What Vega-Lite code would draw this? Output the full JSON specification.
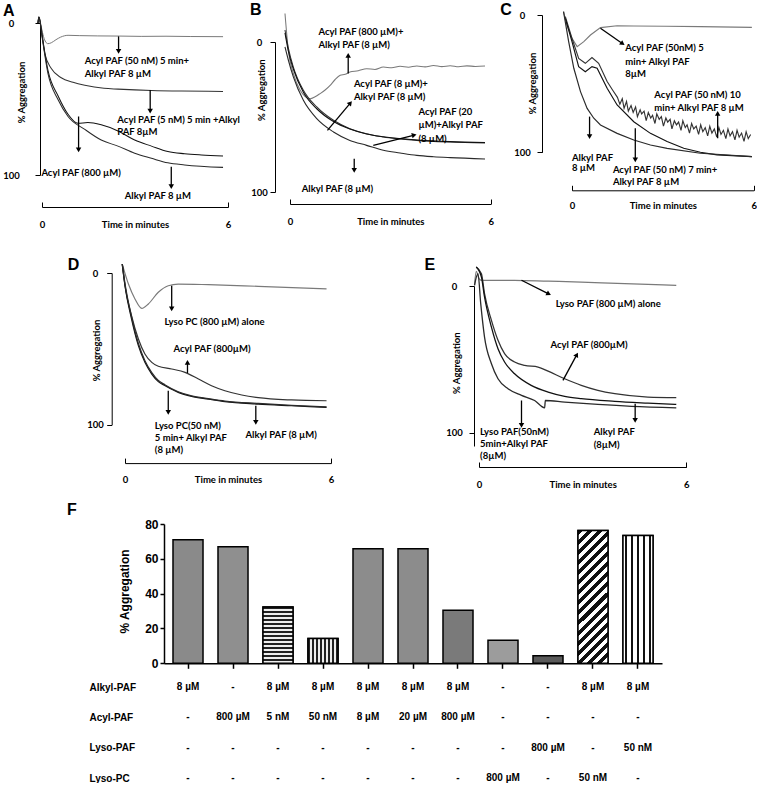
{
"$schema": "https://vega.github.io/schema/vega-lite/v6.json",
"background": "white",
"padding": {"left": 2, "top": 0, "right": 0, "bottom": 0},
"config": {
  "view": {"stroke": null},
  "axis": {"grid": false, "domainColor": "#000", "tickColor": "#000", "labelColor": "#000", "titleColor": "#000", "labelFont": "Liberation Sans Narrow, Lato, sans-serif", "titleFont": "Liberation Sans Narrow, Lato, sans-serif", "labelFontWeight": "bold", "titleFontWeight": "bold", "labelFontSize": 9.5, "titleFontSize": 9.5, "domainWidth": 1, "tickWidth": 1},
  "text": {"font": "Liberation Sans Narrow, Lato, sans-serif", "fontWeight": "bold", "fontSize": 9.5, "color": "#000"},
  "line": {"interpolate": "monotone"}
},
"datasets": {
  "curA": [
    {"s":"a1","t":-0.13,"v":0},{"s":"a1","t":-0.1,"v":-4},{"s":"a1","t":-0.02,"v":3},{"s":"a1","t":0.05,"v":9},{"s":"a1","t":0.12,"v":12.5},{"s":"a1","t":0.19,"v":13.6},{"s":"a1","t":0.3,"v":13},{"s":"a1","t":0.45,"v":11},{"s":"a1","t":0.6,"v":9.3},{"s":"a1","t":0.84,"v":8.1},{"s":"a1","t":1.2,"v":8.3},{"s":"a1","t":1.8,"v":8.5},{"s":"a1","t":2.5,"v":8.6},{"s":"a1","t":3.2,"v":8.8},{"s":"a1","t":4,"v":8.7},{"s":"a1","t":4.8,"v":8.9},{"s":"a1","t":5.84,"v":9},
    {"s":"a2","t":-0.13,"v":0},{"s":"a2","t":-0.1,"v":-4},{"s":"a2","t":-0.02,"v":4},{"s":"a2","t":0.09,"v":20},{"s":"a2","t":0.3,"v":30},{"s":"a2","t":0.62,"v":36},{"s":"a2","t":1.0,"v":39},{"s":"a2","t":1.38,"v":41},{"s":"a2","t":2.0,"v":43},{"s":"a2","t":2.45,"v":43.5},{"s":"a2","t":3.0,"v":44},{"s":"a2","t":3.53,"v":44.4},{"s":"a2","t":4.5,"v":44.8},{"s":"a2","t":5.84,"v":45},
    {"s":"a3","t":-0.13,"v":0},{"s":"a3","t":-0.1,"v":-4},{"s":"a3","t":0.0,"v":8},{"s":"a3","t":0.19,"v":31},{"s":"a3","t":0.52,"v":48},{"s":"a3","t":0.84,"v":60},{"s":"a3","t":1.16,"v":66},{"s":"a3","t":1.48,"v":65.5},{"s":"a3","t":1.91,"v":67},{"s":"a3","t":2.45,"v":71},{"s":"a3","t":2.99,"v":77},{"s":"a3","t":3.53,"v":81},{"s":"a3","t":4.06,"v":84.6},{"s":"a3","t":4.6,"v":86},{"s":"a3","t":5.14,"v":86.8},{"s":"a3","t":5.84,"v":87.5},
    {"s":"a4","t":-0.13,"v":0},{"s":"a4","t":-0.1,"v":-4},{"s":"a4","t":0.0,"v":9},{"s":"a4","t":0.19,"v":33},{"s":"a4","t":0.52,"v":50.5},{"s":"a4","t":0.84,"v":61.5},{"s":"a4","t":1.38,"v":70},{"s":"a4","t":1.91,"v":77},{"s":"a4","t":2.45,"v":81},{"s":"a4","t":2.99,"v":85.7},{"s":"a4","t":3.53,"v":89},{"s":"a4","t":4.06,"v":92},{"s":"a4","t":4.6,"v":93.4},{"s":"a4","t":5.84,"v":95}
  ],
  "curB": [
    {"s":"b1","t":-0.15,"v":-19},{"s":"b1","t":-0.05,"v":5.6},{"s":"b1","t":0.1,"v":21},{"s":"b1","t":0.3,"v":32},{"s":"b1","t":0.6,"v":37.8},{"s":"b1","t":0.75,"v":36.5},{"s":"b1","t":0.9,"v":34.4},{"s":"b1","t":1.05,"v":32},{"s":"b1","t":1.2,"v":28.9},{"s":"b1","t":1.35,"v":25},{"s":"b1","t":1.5,"v":22.2},{"s":"b1","t":1.65,"v":21.5},{"s":"b1","t":1.79,"v":20},{"s":"b1","t":2.04,"v":19.2},{"s":"b1","t":2.29,"v":17.8},{"s":"b1","t":2.54,"v":18.3},{"s":"b1","t":2.79,"v":16.7},{"s":"b1","t":3.04,"v":17.2},{"s":"b1","t":3.29,"v":16.2},{"s":"b1","t":3.54,"v":16.8},{"s":"b1","t":3.79,"v":16},{"s":"b1","t":4.04,"v":16.6},{"s":"b1","t":4.29,"v":15.7},{"s":"b1","t":4.54,"v":16.4},{"s":"b1","t":4.79,"v":15.8},{"s":"b1","t":5.04,"v":16.5},{"s":"b1","t":5.29,"v":15.9},{"s":"b1","t":5.54,"v":16.3},{"s":"b1","t":5.83,"v":16},
    {"s":"b2","t":-0.15,"v":-8},{"s":"b2","t":-0.05,"v":4},{"s":"b2","t":0.1,"v":16.7},{"s":"b2","t":0.4,"v":32.2},{"s":"b2","t":0.8,"v":43.3},{"s":"b2","t":1.3,"v":52.2},{"s":"b2","t":1.79,"v":57.8},{"s":"b2","t":2.29,"v":61.1},{"s":"b2","t":2.79,"v":63.3},{"s":"b2","t":3.29,"v":64.6},{"s":"b2","t":3.79,"v":65.6},{"s":"b2","t":4.79,"v":66.7},{"s":"b2","t":5.83,"v":67.3},
    {"s":"b3","t":-0.15,"v":-6},{"s":"b3","t":-0.05,"v":6},{"s":"b3","t":0.1,"v":18},{"s":"b3","t":0.4,"v":33.5},{"s":"b3","t":0.8,"v":44.5},{"s":"b3","t":1.3,"v":53},{"s":"b3","t":1.79,"v":58},{"s":"b3","t":2.29,"v":61.3},{"s":"b3","t":2.79,"v":63.2},{"s":"b3","t":3.79,"v":65.3},{"s":"b3","t":4.79,"v":66.4},{"s":"b3","t":5.83,"v":67},
    {"s":"b4","t":-0.15,"v":3.3},{"s":"b4","t":-0.05,"v":12},{"s":"b4","t":0.1,"v":23.3},{"s":"b4","t":0.4,"v":38.9},{"s":"b4","t":0.8,"v":51.1},{"s":"b4","t":1.3,"v":60},{"s":"b4","t":1.79,"v":65.6},{"s":"b4","t":2.29,"v":68.9},{"s":"b4","t":2.79,"v":72.2},{"s":"b4","t":3.29,"v":74},{"s":"b4","t":3.79,"v":75.6},{"s":"b4","t":4.29,"v":76.5},{"s":"b4","t":4.79,"v":77.1},{"s":"b4","t":5.83,"v":78}
  ],
  "curC": [
    {"s":"c1","t":-0.28,"v":-2.4},{"s":"c1","t":-0.17,"v":7.3},{"s":"c1","t":0,"v":17},{"s":"c1","t":0.17,"v":23},{"s":"c1","t":0.39,"v":19.4},{"s":"c1","t":0.61,"v":14.6},{"s":"c1","t":0.94,"v":9.2},{"s":"c1","t":1.49,"v":7.8},{"s":"c1","t":2.04,"v":8},{"s":"c1","t":3.1,"v":8.2},{"s":"c1","t":4.24,"v":8.5},{"s":"c1","t":5.94,"v":9},
    {"s":"c2","t":-0.22,"v":1.2},{"s":"c2","t":0,"v":17},{"s":"c2","t":0.22,"v":31.6},{"s":"c2","t":0.44,"v":35.2},{"s":"c2","t":0.66,"v":31},{"s":"c2","t":0.88,"v":35.2},{"s":"c2","t":1.16,"v":48.5},{"s":"c2","t":1.35,"v":55},{"s":"c2","t":1.5,"v":60},{"s":"c2","t":1.58,"v":65},{"s":"c2","t":1.66,"v":61},{"s":"c2","t":1.72,"v":68},{"s":"c2","t":1.8,"v":63},{"s":"c2","t":1.86,"v":70},{"s":"c2","t":1.95,"v":66},{"s":"c2","t":2.02,"v":71},{"s":"c2","t":2.1,"v":67},{"s":"c2","t":2.16,"v":74},{"s":"c2","t":2.25,"v":69},{"s":"c2","t":2.3,"v":72},{"s":"c2","t":2.38,"v":70},{"s":"c2","t":2.45,"v":77},{"s":"c2","t":2.52,"v":71},{"s":"c2","t":2.6,"v":75},{"s":"c2","t":2.66,"v":73},{"s":"c2","t":2.74,"v":79},{"s":"c2","t":2.8,"v":72},{"s":"c2","t":2.88,"v":76},{"s":"c2","t":2.95,"v":74},{"s":"c2","t":3.02,"v":81},{"s":"c2","t":3.1,"v":75},{"s":"c2","t":3.16,"v":78},{"s":"c2","t":3.24,"v":76},{"s":"c2","t":3.3,"v":83},{"s":"c2","t":3.38,"v":77},{"s":"c2","t":3.45,"v":80},{"s":"c2","t":3.52,"v":78},{"s":"c2","t":3.6,"v":84},{"s":"c2","t":3.66,"v":77},{"s":"c2","t":3.74,"v":82},{"s":"c2","t":3.8,"v":80},{"s":"c2","t":3.88,"v":86},{"s":"c2","t":3.95,"v":79},{"s":"c2","t":4.02,"v":83},{"s":"c2","t":4.1,"v":81},{"s":"c2","t":4.18,"v":87},{"s":"c2","t":4.25,"v":80},{"s":"c2","t":4.32,"v":85},{"s":"c2","t":4.4,"v":82},{"s":"c2","t":4.48,"v":88},{"s":"c2","t":4.55,"v":81},{"s":"c2","t":4.62,"v":86},{"s":"c2","t":4.7,"v":83},{"s":"c2","t":4.78,"v":89},{"s":"c2","t":4.85,"v":82},{"s":"c2","t":4.92,"v":87},{"s":"c2","t":5.0,"v":84},{"s":"c2","t":5.08,"v":90},{"s":"c2","t":5.15,"v":83},{"s":"c2","t":5.22,"v":88},{"s":"c2","t":5.3,"v":85},{"s":"c2","t":5.38,"v":91},{"s":"c2","t":5.45,"v":84},{"s":"c2","t":5.52,"v":89},{"s":"c2","t":5.6,"v":86},{"s":"c2","t":5.68,"v":92},{"s":"c2","t":5.75,"v":85},{"s":"c2","t":5.82,"v":90},{"s":"c2","t":5.9,"v":87},
    {"s":"c3","t":-0.22,"v":2.4},{"s":"c3","t":0,"v":19.4},{"s":"c3","t":0.22,"v":37.6},{"s":"c3","t":0.44,"v":41.3},{"s":"c3","t":0.66,"v":37.6},{"s":"c3","t":0.83,"v":38.8},{"s":"c3","t":1.16,"v":53.4},{"s":"c3","t":1.49,"v":65.5},{"s":"c3","t":2.04,"v":77.7},{"s":"c3","t":2.59,"v":86.2},{"s":"c3","t":3.14,"v":92.2},{"s":"c3","t":3.69,"v":97.1},{"s":"c3","t":4.24,"v":100},{"s":"c3","t":4.79,"v":101.9},{"s":"c3","t":5.94,"v":103.2},
    {"s":"c4","t":-0.28,"v":-2.4},{"s":"c4","t":-0.11,"v":19.4},{"s":"c4","t":0.06,"v":38.8},{"s":"c4","t":0.28,"v":55.8},{"s":"c4","t":0.5,"v":68},{"s":"c4","t":0.72,"v":75.2},{"s":"c4","t":0.94,"v":80.1},{"s":"c4","t":1.49,"v":86.2},{"s":"c4","t":2.04,"v":91},{"s":"c4","t":2.59,"v":94.7},{"s":"c4","t":3.14,"v":97.1},{"s":"c4","t":4.24,"v":100.7},{"s":"c4","t":5.94,"v":103.2}
  ],
  "curD": [
    {"s":"d1","t":-0.08,"v":-5.9},{"s":"d1","t":0.1,"v":7.3},{"s":"d1","t":0.29,"v":17.1},{"s":"d1","t":0.49,"v":23.3},{"s":"d1","t":0.68,"v":20.4},{"s":"d1","t":0.97,"v":12.7},{"s":"d1","t":1.26,"v":8.4},{"s":"d1","t":1.55,"v":7.3},{"s":"d1","t":2.43,"v":7.7},{"s":"d1","t":3.88,"v":8.8},{"s":"d1","t":5.87,"v":10.5},
    {"s":"d2","t":-0.08,"v":-5.9},{"s":"d2","t":0.0,"v":8.4},{"s":"d2","t":0.19,"v":28.1},{"s":"d2","t":0.39,"v":43.5},{"s":"d2","t":0.58,"v":53.4},{"s":"d2","t":0.78,"v":58.9},{"s":"d2","t":0.97,"v":61.5},{"s":"d2","t":1.36,"v":63.3},{"s":"d2","t":1.75,"v":65.5},{"s":"d2","t":2.14,"v":69.9},{"s":"d2","t":2.52,"v":74.3},{"s":"d2","t":2.91,"v":77.6},{"s":"d2","t":3.4,"v":80.4},{"s":"d2","t":3.88,"v":82.2},{"s":"d2","t":4.85,"v":83.7},{"s":"d2","t":5.87,"v":84.2},
    {"s":"d3","t":-0.08,"v":-5.9},{"s":"d3","t":0.0,"v":8.4},{"s":"d3","t":0.19,"v":30.3},{"s":"d3","t":0.39,"v":47.9},{"s":"d3","t":0.58,"v":58.9},{"s":"d3","t":0.78,"v":66.6},{"s":"d3","t":0.97,"v":71.6},{"s":"d3","t":1.17,"v":74.3},{"s":"d3","t":1.55,"v":78.7},{"s":"d3","t":1.94,"v":81.3},{"s":"d3","t":2.43,"v":83.1},{"s":"d3","t":2.91,"v":84.8},{"s":"d3","t":3.88,"v":86.4},{"s":"d3","t":4.85,"v":87.5},{"s":"d3","t":5.87,"v":88.6},
    {"s":"d4","t":-0.08,"v":-5.9},{"s":"d4","t":0.0,"v":7},{"s":"d4","t":0.19,"v":28.8},{"s":"d4","t":0.39,"v":46.5},{"s":"d4","t":0.58,"v":57.8},{"s":"d4","t":0.78,"v":65.6},{"s":"d4","t":0.97,"v":70.8},{"s":"d4","t":1.17,"v":73.8},{"s":"d4","t":1.55,"v":78.3},{"s":"d4","t":1.94,"v":81},{"s":"d4","t":2.43,"v":82.8},{"s":"d4","t":2.91,"v":84.4},{"s":"d4","t":3.88,"v":86},{"s":"d4","t":4.85,"v":87.2},{"s":"d4","t":5.87,"v":88.2}
  ],
  "curE": [
    {"s":"e1","t":-0.13,"v":-0.5},{"s":"e1","t":-0.08,"v":-10},{"s":"e1","t":0.0,"v":-5},{"s":"e1","t":0.07,"v":-3.9},{"s":"e1","t":1.03,"v":-3.9},{"s":"e1","t":2.0,"v":-3.3},{"s":"e1","t":2.96,"v":-2.7},{"s":"e1","t":4.0,"v":-1.8},{"s":"e1","t":5.71,"v":-0.5},
    {"s":"e2","t":-0.08,"v":-13},{"s":"e2","t":0.07,"v":-8.4},{"s":"e2","t":0.16,"v":5.2},{"s":"e2","t":0.36,"v":23.4},{"s":"e2","t":0.55,"v":37},{"s":"e2","t":0.74,"v":46.1},{"s":"e2","t":1.03,"v":51.8},{"s":"e2","t":1.32,"v":54.1},{"s":"e2","t":1.71,"v":55.2},{"s":"e2","t":2.0,"v":58},{"s":"e2","t":2.48,"v":63.2},{"s":"e2","t":2.96,"v":67.7},{"s":"e2","t":3.44,"v":71.1},{"s":"e2","t":3.93,"v":73.4},{"s":"e2","t":4.89,"v":75.7},{"s":"e2","t":5.71,"v":76.1},
    {"s":"e3","t":-0.08,"v":-13},{"s":"e3","t":0.07,"v":-6.1},{"s":"e3","t":0.16,"v":7.5},{"s":"e3","t":0.36,"v":28},{"s":"e3","t":0.55,"v":42.7},{"s":"e3","t":0.74,"v":51.8},{"s":"e3","t":1.03,"v":59.8},{"s":"e3","t":1.51,"v":67.7},{"s":"e3","t":2.0,"v":72.3},{"s":"e3","t":2.48,"v":75.2},{"s":"e3","t":2.96,"v":76.8},{"s":"e3","t":3.93,"v":78.6},{"s":"e3","t":4.89,"v":79.8},{"s":"e3","t":5.71,"v":80.7},
    {"s":"e4","t":-0.13,"v":-0.5},{"s":"e4","t":-0.03,"v":-8.4},{"s":"e4","t":0.05,"v":12},{"s":"e4","t":0.16,"v":34.8},{"s":"e4","t":0.36,"v":53},{"s":"e4","t":0.55,"v":63.2},{"s":"e4","t":0.84,"v":70},{"s":"e4","t":1.23,"v":74.5},{"s":"e4","t":1.61,"v":78},{"s":"e4","t":1.9,"v":83},{"s":"e4","t":1.92,"v":78},{"s":"e4","t":2.48,"v":79.1},{"s":"e4","t":3.44,"v":80.7},{"s":"e4","t":4.41,"v":82},{"s":"e4","t":5.71,"v":83}
  ],
  "noteA": [
    {"t":1.38,"v":25.3,"text":"Acyl PAF (50 nM) 5 min+"},{"t":1.38,"v":33.6,"text":"Alkyl PAF 8 µM"},{"t":2.43,"v":63.7,"text":"Acyl PAF (5 nM) 5 min +Alkyl"},{"t":2.43,"v":71.4,"text":"PAF 8µM"},{"t":-0.02,"v":98.9,"text":"Acyl PAF (800 µM)"},{"t":2.67,"v":114,"text":"Alkyl PAF 8 µM"}
  ],
  "noteB": [
    {"t":0.85,"v":-6.7,"text":"Acyl PAF (800 µM)+"},{"t":0.85,"v":2.2,"text":"Alkyl PAF (8 µM)"},{"t":1.91,"v":27.8,"text":"Acyl PAF (8 µM)+"},{"t":1.91,"v":36.7,"text":"Alkyl PAF (8 µM)"},{"t":3.84,"v":46.7,"text":"Acyl PAF (20"},{"t":3.84,"v":55.6,"text":"µM)+Alkyl PAF"},{"t":3.84,"v":64.4,"text":"(8 µM)"},{"t":0.35,"v":97.8,"text":"Alkyl PAF (8 µM)"}
  ],
  "noteC": [
    {"t":1.76,"v":24.3,"text":"Acyl PAF (50nM) 5"},{"t":1.76,"v":34,"text":"min+ Alkyl PAF"},{"t":1.76,"v":43.2,"text":"8µM"},{"t":2.72,"v":58.3,"text":"Acyl PAF (50 nM) 10"},{"t":2.72,"v":67.5,"text":"min+ Alkyl PAF 8 µM"},{"t":0,"v":103.9,"text":"Alkyl PAF"},{"t":0,"v":111.7,"text":"8 µM"},{"t":1.35,"v":112.9,"text":"Acyl PAF (50 nM) 7 min+"},{"t":1.35,"v":121.8,"text":"Alkyl PAF 8 µM"}
  ],
  "noteD": [
    {"t":1.15,"v":32.5,"text":"Lyso PC (800 µM) alone"},{"t":1.41,"v":50.1,"text":"Acyl PAF (800µM)"},{"t":0.87,"v":100.7,"text":"Lyso PC(50 nM)"},{"t":0.87,"v":108.6,"text":"5 min+ Alkyl PAF"},{"t":0.87,"v":116.5,"text":"(8 µM)"},{"t":3.51,"v":106.8,"text":"Alkyl PAF (8 µM)"}
  ],
  "noteE": [
    {"t":2.22,"v":12,"text":"Lyso PAF (800 µM) alone"},{"t":2.07,"v":40.5,"text":"Acyl PAF (800µM)"},{"t":0.03,"v":99.5,"text":"Lyso PAF(50nM)"},{"t":0.03,"v":107.5,"text":"5min+Alkyl PAF"},{"t":0.03,"v":115.5,"text":"(8µM)"},{"t":3.32,"v":99.5,"text":"Alkyl PAF"},{"t":3.32,"v":108,"text":"(8µM)"}
  ],
  "arrA": [
    {"t":2.47,"v":18.7,"t2":2.47,"v2":8.8,"dir":"down"},{"t":3.49,"v":58,"t2":3.49,"v2":44,"dir":"down"},{"t":1.18,"v":83.5,"t2":1.18,"v2":61.5,"dir":"down"},{"t":4.17,"v":107.7,"t2":4.17,"v2":94.5,"dir":"down"}
  ],
  "arrB": [
    {"t":1.74,"v":8.9,"t2":1.74,"v2":21,"dir":"up"},{"t":1.79,"v":41.1,"t2":1.12,"v2":58.9,"dir":"b1"},{"t":3.69,"v":62.2,"t2":2.49,"v2":68.9,"dir":"b2"},{"t":1.92,"v":85.6,"t2":1.92,"v2":77.8,"dir":"down"}
  ],
  "arrC": [
    {"t":1.65,"v":20.6,"t2":0.94,"v2":9.7,"dir":"c1"},{"t":4.81,"v":71.6,"t2":4.81,"v2":89.8,"dir":"up"},{"t":0.58,"v":88.6,"t2":0.58,"v2":74,"dir":"down"},{"t":2.09,"v":105.6,"t2":2.09,"v2":82.5,"dir":"down"}
  ],
  "arrD": [
    {"t":1.36,"v":23.7,"t2":1.36,"v2":8.4,"dir":"down"},{"t":1.82,"v":58.9,"t2":1.82,"v2":65.9,"dir":"up"},{"t":1.26,"v":91.9,"t2":1.26,"v2":77.6,"dir":"down"},{"t":3.81,"v":98.5,"t2":3.81,"v2":87.5,"dir":"down"}
  ],
  "arrE": [
    {"t":2.0,"v":5.2,"t2":1.23,"v2":-3.9,"dir":"e1"},{"t":2.82,"v":47.3,"t2":2.43,"v2":64.3,"dir":"e2"},{"t":1.23,"v":95,"t2":1.23,"v2":78,"dir":"down"},{"t":4.52,"v":91.6,"t2":4.52,"v2":80.2,"dir":"down"}
  ],
  "bars": [
    {"bar":1,"value":71},{"bar":2,"value":67},{"bar":3,"value":32.4},{"bar":4,"value":14.3},{"bar":5,"value":65.8},{"bar":6,"value":65.8},{"bar":7,"value":30.5},{"bar":8,"value":13.2},{"bar":9,"value":4.4},{"bar":10,"value":76.2},{"bar":11,"value":73.4}
  ],
  "table": [
    {"bar":1,"agent":"Alkyl-PAF","label":"8 µM"},{"bar":2,"agent":"Alkyl-PAF","label":"-"},{"bar":3,"agent":"Alkyl-PAF","label":"8 µM"},{"bar":4,"agent":"Alkyl-PAF","label":"8 µM"},{"bar":5,"agent":"Alkyl-PAF","label":"8 µM"},{"bar":6,"agent":"Alkyl-PAF","label":"8 µM"},{"bar":7,"agent":"Alkyl-PAF","label":"8 µM"},{"bar":8,"agent":"Alkyl-PAF","label":"-"},{"bar":9,"agent":"Alkyl-PAF","label":"-"},{"bar":10,"agent":"Alkyl-PAF","label":"8 µM"},{"bar":11,"agent":"Alkyl-PAF","label":"8 µM"},
    {"bar":1,"agent":"Acyl-PAF","label":"-"},{"bar":2,"agent":"Acyl-PAF","label":"800 µM"},{"bar":3,"agent":"Acyl-PAF","label":"5 nM"},{"bar":4,"agent":"Acyl-PAF","label":"50 nM"},{"bar":5,"agent":"Acyl-PAF","label":"8 µM"},{"bar":6,"agent":"Acyl-PAF","label":"20 µM"},{"bar":7,"agent":"Acyl-PAF","label":"800 µM"},{"bar":8,"agent":"Acyl-PAF","label":"-"},{"bar":9,"agent":"Acyl-PAF","label":"-"},{"bar":10,"agent":"Acyl-PAF","label":"-"},{"bar":11,"agent":"Acyl-PAF","label":"-"},
    {"bar":1,"agent":"Lyso-PAF","label":"-"},{"bar":2,"agent":"Lyso-PAF","label":"-"},{"bar":3,"agent":"Lyso-PAF","label":"-"},{"bar":4,"agent":"Lyso-PAF","label":"-"},{"bar":5,"agent":"Lyso-PAF","label":"-"},{"bar":6,"agent":"Lyso-PAF","label":"-"},{"bar":7,"agent":"Lyso-PAF","label":"-"},{"bar":8,"agent":"Lyso-PAF","label":"-"},{"bar":9,"agent":"Lyso-PAF","label":"800 µM"},{"bar":10,"agent":"Lyso-PAF","label":"-"},{"bar":11,"agent":"Lyso-PAF","label":"50 nM"},
    {"bar":1,"agent":"Lyso-PC","label":"-"},{"bar":2,"agent":"Lyso-PC","label":"-"},{"bar":3,"agent":"Lyso-PC","label":"-"},{"bar":4,"agent":"Lyso-PC","label":"-"},{"bar":5,"agent":"Lyso-PC","label":"-"},{"bar":6,"agent":"Lyso-PC","label":"-"},{"bar":7,"agent":"Lyso-PC","label":"-"},{"bar":8,"agent":"Lyso-PC","label":"800 µM"},{"bar":9,"agent":"Lyso-PC","label":"-"},{"bar":10,"agent":"Lyso-PC","label":"50 nM"},{"bar":11,"agent":"Lyso-PC","label":"-"}
  ]
},
"vconcat": [
  {"hconcat": [
    {"vconcat": [
      {"width": 1, "height": 1, "data": {"values": [{"a": 1}]}, "mark": {"type": "text", "baseline": "top", "fontSize": 1}, "encoding": {"text": {"value": ""}}},
      {"width": 186, "height": 152,
       "encoding": {
         "x": {"field": "t", "type": "quantitative", "scale": {"domain": [0, 6], "nice": false, "zero": false}, "axis": {"values": [0, 6], "offset": 32, "tickSize": -5, "labelPadding": 22, "labelBaseline": "middle", "labelFlush": false, "title": "Time in minutes", "titleY": 17, "titleBaseline": "middle"}},
         "y": {"field": "v", "type": "quantitative", "scale": {"domain": [0, 100], "reverse": true, "nice": false, "zero": false}, "axis": {"values": [0, 100], "offset": 2, "tickSize": 5, "labelPadding": 24, "labelAlign": "center", "labelBaseline": "middle", "title": "% Aggregation", "titleAngle": 270, "titleBaseline": "bottom", "titleX": -13.7, "titleY": 69}}
       },
       "layer": [
         {"data": {"name": "curA"}, "mark": {"type": "line"}, "encoding": {"color": {"field": "s", "type": "nominal", "scale": {"domain": ["a1","a2","a3","a4"], "range": ["#7a7a7a","#333333","#111111","#2a2a2a"]}, "legend": null}, "strokeWidth": {"field": "s", "type": "ordinal", "scale": {"domain": ["a1","a2","a3","a4"], "range": [1, 1.3, 2, 1.3]}, "legend": null}}},
         {"data": {"name": "noteA"}, "mark": {"type": "text", "align": "left", "baseline": "middle"}, "encoding": {"text": {"field": "text", "type": "nominal"}}},
         {"data": {"values": [{"t": -1.258, "v": -4.8, "text": "A"}]}, "mark": {"type": "text", "align": "left", "baseline": "alphabetic", "fontSize": 16, "font": "Liberation Sans"}, "encoding": {"text": {"field": "text", "type": "nominal"}}},
         {"data": {"name": "arrA"}, "mark": {"type": "rule", "strokeWidth": 1.3, "color": "#000"}, "encoding": {"x2": {"field": "t2"}, "y2": {"field": "v2"}}},
         {"data": {"name": "arrA"}, "transform": [{"filter": "datum.dir == 'down'"}], "mark": {"type": "point", "shape": "triangle-down", "filled": true, "size": 30, "color": "#000", "opacity": 1}, "encoding": {}}
       ]
      }
    ], "spacing": 0},
    {"hconcat": [
      {"vconcat": [
        {"width": 1, "height": 1, "data": {"values": [{"a": 1}]}, "mark": {"type": "text", "baseline": "top", "fontSize": 1}, "encoding": {"text": {"value": ""}}},
        {"width": 200.7, "height": 150,
         "encoding": {
           "x": {"field": "t", "type": "quantitative", "scale": {"domain": [0, 6], "nice": false, "zero": false}, "axis": {"values": [0, 6], "offset": 12, "tickSize": -5, "labelPadding": 22, "labelBaseline": "middle", "labelFlush": false, "title": "Time in minutes", "titleY": 17, "titleBaseline": "middle"}},
           "y": {"field": "v", "type": "quantitative", "scale": {"domain": [0, 100], "reverse": true, "nice": false, "zero": false}, "axis": {"values": [0, 100], "offset": 15, "tickSize": 5, "labelPadding": 11, "labelAlign": "center", "labelBaseline": "middle", "title": "% Aggregation", "titleAngle": 270, "titleBaseline": "bottom", "titleX": -8.3, "titleY": 47.7}}
         },
         "layer": [
           {"data": {"name": "curB"}, "mark": {"type": "line"}, "encoding": {"color": {"field": "s", "type": "nominal", "scale": {"domain": ["b1","b2","b3","b4"], "range": ["#222222","#111111","#999999","#222222"]}, "legend": null}, "strokeWidth": {"field": "s", "type": "ordinal", "scale": {"domain": ["b1","b2","b3","b4"], "range": [1.4, 1.6, 1, 1.4]}, "legend": null}}},
           {"data": {"name": "noteB"}, "mark": {"type": "text", "align": "left", "baseline": "middle"}, "encoding": {"text": {"field": "text", "type": "nominal"}}},
           {"data": {"values": [{"t": -1.196, "v": -17.7, "text": "B"}]}, "mark": {"type": "text", "align": "left", "baseline": "alphabetic", "fontSize": 16, "font": "Liberation Sans"}, "encoding": {"text": {"field": "text", "type": "nominal"}}},
           {"data": {"name": "arrB"}, "mark": {"type": "rule", "strokeWidth": 1.3, "color": "#000"}, "encoding": {"x2": {"field": "t2"}, "y2": {"field": "v2"}}},
           {"data": {"name": "arrB"}, "transform": [{"filter": "datum.dir == 'down'"}], "mark": {"type": "point", "shape": "triangle-down", "filled": true, "size": 30, "color": "#000", "opacity": 1}, "encoding": {}},
           {"data": {"name": "arrB"}, "transform": [{"filter": "datum.dir == 'up'"}], "mark": {"type": "point", "shape": "triangle-up", "filled": true, "size": 30, "color": "#000", "opacity": 1}, "encoding": {}},
           {"data": {"name": "arrB"}, "transform": [{"filter": "datum.dir == 'b1'"}], "mark": {"type": "point", "shape": "triangle", "angle": 40, "filled": true, "size": 30, "color": "#000", "opacity": 1}, "encoding": {}},
           {"data": {"name": "arrB"}, "transform": [{"filter": "datum.dir == 'b2'"}], "mark": {"type": "point", "shape": "triangle", "angle": 76, "filled": true, "size": 30, "color": "#000", "opacity": 1}, "encoding": {}}
         ]
        }
      ], "spacing": 0},
      {"vconcat": [
        {"width": 1, "height": 1, "data": {"values": [{"a": 1}]}, "mark": {"type": "text", "baseline": "top", "fontSize": 1}, "encoding": {"text": {"value": ""}}},
        {"width": 181.7, "height": 137.3,
         "encoding": {
           "x": {"field": "t", "type": "quantitative", "scale": {"domain": [0, 6], "nice": false, "zero": false}, "axis": {"values": [0, 6], "offset": 38, "tickSize": -5, "labelPadding": 20, "labelBaseline": "middle", "labelFlush": false, "title": "Time in minutes", "titleY": 15, "titleBaseline": "middle"}},
           "y": {"field": "v", "type": "quantitative", "scale": {"domain": [0, 100], "reverse": true, "nice": false, "zero": false}, "axis": {"values": [0, 100], "offset": 30, "tickSize": 5, "labelPadding": 15, "labelAlign": "center", "labelBaseline": "middle", "title": "% Aggregation", "titleAngle": 270, "titleBaseline": "bottom", "titleX": -4.7, "titleY": 68}}
         },
         "layer": [
           {"data": {"name": "curC"}, "mark": {"type": "line", "interpolate": "linear"}, "encoding": {"color": {"field": "s", "type": "nominal", "scale": {"domain": ["c1","c2","c3","c4"], "range": ["#333333","#8a8a8a","#666666","#111111"]}, "legend": null}, "strokeWidth": {"field": "s", "type": "ordinal", "scale": {"domain": ["c1","c2","c3","c4"], "range": [1.2, 1, 1, 1.5]}, "legend": null}}},
           {"data": {"name": "noteC"}, "mark": {"type": "text", "align": "left", "baseline": "middle"}, "encoding": {"text": {"field": "text", "type": "nominal"}}},
           {"data": {"values": [{"t": -2.368, "v": 0, "text": "C"}]}, "mark": {"type": "text", "align": "left", "baseline": "alphabetic", "fontSize": 16, "font": "Liberation Sans"}, "encoding": {"text": {"field": "text", "type": "nominal"}}},
           {"data": {"name": "arrC"}, "mark": {"type": "rule", "strokeWidth": 1.3, "color": "#000"}, "encoding": {"x2": {"field": "t2"}, "y2": {"field": "v2"}}},
           {"data": {"name": "arrC"}, "transform": [{"filter": "datum.dir == 'down'"}], "mark": {"type": "point", "shape": "triangle-down", "filled": true, "size": 30, "color": "#000", "opacity": 1}, "encoding": {}},
           {"data": {"name": "arrC"}, "transform": [{"filter": "datum.dir == 'up'"}], "mark": {"type": "point", "shape": "triangle-up", "filled": true, "size": 30, "color": "#000", "opacity": 1}, "encoding": {}},
           {"data": {"name": "arrC"}, "transform": [{"filter": "datum.dir == 'c1'"}], "mark": {"type": "point", "shape": "triangle", "angle": 125, "filled": true, "size": 30, "color": "#000", "opacity": 1}, "encoding": {}}
         ]
        }
      ], "spacing": 0}
    ], "spacing": 6}
  ], "spacing": 8},
  {"vconcat": [
    {"hconcat": [
      {"width": 1, "height": 1, "data": {"values": [{"a": 1}]}, "mark": {"type": "text", "baseline": "top", "fontSize": 1}, "encoding": {"text": {"value": ""}}},
      {"hconcat": [
        {"vconcat": [
          {"width": 1, "height": 1, "data": {"values": [{"a": 1}]}, "mark": {"type": "text", "baseline": "top", "fontSize": 1}, "encoding": {"text": {"value": ""}}},
          {"width": 206, "height": 151.7,
           "encoding": {
             "x": {"field": "t", "type": "quantitative", "scale": {"domain": [0, 6], "nice": false, "zero": false}, "axis": {"values": [0, 6], "offset": 38.4, "tickSize": -5, "labelPadding": 21, "labelBaseline": "middle", "labelFlush": false, "title": "Time in minutes", "titleY": 16, "titleBaseline": "middle"}},
             "y": {"field": "v", "type": "quantitative", "scale": {"domain": [0, 100], "reverse": true, "nice": false, "zero": false}, "axis": {"values": [0, 100], "offset": 13.3, "tickSize": 5, "labelPadding": 11.7, "labelAlign": "center", "labelBaseline": "middle", "title": "% Aggregation", "titleAngle": 270, "titleBaseline": "bottom", "titleX": -10, "titleY": 77}}
           },
           "layer": [
             {"data": {"name": "curD"}, "mark": {"type": "line"}, "encoding": {"color": {"field": "s", "type": "nominal", "scale": {"domain": ["d1","d2","d3","d4"], "range": ["#777777","#111111","#222222","#9a9a9a"]}, "legend": null}, "strokeWidth": {"field": "s", "type": "ordinal", "scale": {"domain": ["d1","d2","d3","d4"], "range": [1, 1.6, 1.4, 1]}, "legend": null}}},
             {"data": {"name": "noteD"}, "mark": {"type": "text", "align": "left", "baseline": "middle"}, "encoding": {"text": {"field": "text", "type": "nominal"}}},
             {"data": {"values": [{"t": -1.669, "v": -1.8, "text": "D"}]}, "mark": {"type": "text", "align": "left", "baseline": "alphabetic", "fontSize": 16, "font": "Liberation Sans"}, "encoding": {"text": {"field": "text", "type": "nominal"}}},
             {"data": {"name": "arrD"}, "mark": {"type": "rule", "strokeWidth": 1.3, "color": "#000"}, "encoding": {"x2": {"field": "t2"}, "y2": {"field": "v2"}}},
             {"data": {"name": "arrD"}, "transform": [{"filter": "datum.dir == 'down'"}], "mark": {"type": "point", "shape": "triangle-down", "filled": true, "size": 30, "color": "#000", "opacity": 1}, "encoding": {}},
             {"data": {"name": "arrD"}, "transform": [{"filter": "datum.dir == 'up'"}], "mark": {"type": "point", "shape": "triangle-up", "filled": true, "size": 30, "color": "#000", "opacity": 1}, "encoding": {}}
           ]
          }
        ], "spacing": 0},
        {"vconcat": [
          {"width": 1, "height": 1, "data": {"values": [{"a": 1}]}, "mark": {"type": "text", "baseline": "top", "fontSize": 1}, "encoding": {"text": {"value": ""}}},
          {"width": 207.3, "height": 160,
           "encoding": {
             "x": {"field": "t", "type": "quantitative", "scale": {"domain": [0, 6], "nice": false, "zero": false}, "axis": {"values": [0, 6], "offset": 21, "tickSize": -5, "labelPadding": 22, "labelBaseline": "middle", "labelFlush": false, "title": "Time in minutes", "titleY": 17, "titleBaseline": "middle"}},
             "y": {"field": "v", "type": "quantitative", "scale": {"domain": [0, 109], "reverse": true, "nice": false, "zero": false}, "axis": {"values": [0, 100], "offset": 5, "tickSize": 5, "labelPadding": 15, "labelAlign": "center", "labelBaseline": "middle", "title": "% Aggregation", "titleAngle": 270, "titleBaseline": "bottom", "titleX": -12.7, "titleY": 76.7}}
           },
           "layer": [
             {"data": {"name": "curE"}, "mark": {"type": "line"}, "encoding": {"color": {"field": "s", "type": "nominal", "scale": {"domain": ["e1","e2","e3","e4"], "range": ["#444444","#111111","#444444","#888888"]}, "legend": null}, "strokeWidth": {"field": "s", "type": "ordinal", "scale": {"domain": ["e1","e2","e3","e4"], "range": [1, 1.6, 1.2, 1]}, "legend": null}}},
             {"data": {"name": "noteE"}, "mark": {"type": "text", "align": "left", "baseline": "middle"}, "encoding": {"text": {"field": "text", "type": "nominal"}}},
             {"data": {"values": [{"t": -1.575, "v": -10.6, "text": "E"}]}, "mark": {"type": "text", "align": "left", "baseline": "alphabetic", "fontSize": 16, "font": "Liberation Sans"}, "encoding": {"text": {"field": "text", "type": "nominal"}}},
             {"data": {"name": "arrE"}, "mark": {"type": "rule", "strokeWidth": 1.3, "color": "#000"}, "encoding": {"x2": {"field": "t2"}, "y2": {"field": "v2"}}},
             {"data": {"name": "arrE"}, "transform": [{"filter": "datum.dir == 'down'"}], "mark": {"type": "point", "shape": "triangle-down", "filled": true, "size": 30, "color": "#000", "opacity": 1}, "encoding": {}},
             {"data": {"name": "arrE"}, "transform": [{"filter": "datum.dir == 'e1'"}], "mark": {"type": "point", "shape": "triangle", "angle": 117, "filled": true, "size": 30, "color": "#000", "opacity": 1}, "encoding": {}},
             {"data": {"name": "arrE"}, "transform": [{"filter": "datum.dir == 'e2'"}], "mark": {"type": "point", "shape": "triangle", "angle": 28, "filled": true, "size": 30, "color": "#000", "opacity": 1}, "encoding": {}}
           ]
          }
        ], "spacing": 0}
      ], "spacing": 90}
    ], "spacing": 24},
    {"hconcat": [
      {"width": 1, "height": 1, "data": {"values": [{"a": 1}]}, "mark": {"type": "text", "baseline": "top", "fontSize": 1}, "encoding": {"text": {"value": ""}}},
      {"width": 498, "height": 139.3,
       "title": {"text": "F", "anchor": "start", "frame": "group", "dx": -97, "offset": 0, "fontSize": 16, "font": "Liberation Sans", "fontWeight": "bold", "color": "#000"},
       "layer": [
         {"data": {"name": "bars"}, "mark": {"type": "bar", "stroke": "#000", "strokeWidth": 1.5},
          "encoding": {
            "x": {"field": "bar", "type": "ordinal", "scale": {"paddingInner": 0.333, "paddingOuter": 0.2}, "axis": {"labels": false, "title": null, "tickSize": 5, "domainWidth": 1.5, "tickWidth": 1.5}},
            "y": {"field": "value", "type": "quantitative", "scale": {"domain": [0, 80], "nice": false}, "axis": {"values": [0, 20, 40, 60, 80], "tickSize": 4, "tickWidth": 1.5, "domainWidth": 1.5, "labelPadding": 2, "labelFont": "Liberation Sans", "labelFontSize": 12, "title": "% Aggregation", "titleFont": "Liberation Sans", "titleFontSize": 12, "titleAngle": 270, "titleBaseline": "bottom", "titleX": -33, "titleY": 67}},
            "fill": {"field": "bar", "type": "ordinal", "scale": {"domain": [1,2,3,4,5,6,7,8,9,10,11], "range": ["#8a8a8a","#8f8f8f","#777777","#555555","#8c8c8c","#8c8c8c","#7a7a7a","#9c9c9c","#5a5a5a","#777777","#aaaaaa"]}, "legend": null}
          }},
         {"data": {"name": "bars"}, "transform": [{"filter": "datum.bar == 3"}],
          "mark": {"type": "bar", "stroke": "#000", "strokeWidth": 1.5, "fill": {"gradient": "linear", "x1": 0, "y1": 0, "x2": 0, "y2": 1, "stops": [
            {"offset":0,"color":"#222"},{"offset":0.039,"color":"#222"},{"offset":0.039,"color":"#eee"},{"offset":0.0714,"color":"#eee"},
            {"offset":0.0714,"color":"#222"},{"offset":0.1107,"color":"#222"},{"offset":0.1107,"color":"#eee"},{"offset":0.1429,"color":"#eee"},
            {"offset":0.1429,"color":"#222"},{"offset":0.1821,"color":"#222"},{"offset":0.1821,"color":"#eee"},{"offset":0.2143,"color":"#eee"},
            {"offset":0.2143,"color":"#222"},{"offset":0.2536,"color":"#222"},{"offset":0.2536,"color":"#eee"},{"offset":0.2857,"color":"#eee"},
            {"offset":0.2857,"color":"#222"},{"offset":0.325,"color":"#222"},{"offset":0.325,"color":"#eee"},{"offset":0.3571,"color":"#eee"},
            {"offset":0.3571,"color":"#222"},{"offset":0.3964,"color":"#222"},{"offset":0.3964,"color":"#eee"},{"offset":0.4286,"color":"#eee"},
            {"offset":0.4286,"color":"#222"},{"offset":0.4679,"color":"#222"},{"offset":0.4679,"color":"#eee"},{"offset":0.5,"color":"#eee"},
            {"offset":0.5,"color":"#222"},{"offset":0.5393,"color":"#222"},{"offset":0.5393,"color":"#eee"},{"offset":0.5714,"color":"#eee"},
            {"offset":0.5714,"color":"#222"},{"offset":0.6107,"color":"#222"},{"offset":0.6107,"color":"#eee"},{"offset":0.6429,"color":"#eee"},
            {"offset":0.6429,"color":"#222"},{"offset":0.6821,"color":"#222"},{"offset":0.6821,"color":"#eee"},{"offset":0.7143,"color":"#eee"},
            {"offset":0.7143,"color":"#222"},{"offset":0.7536,"color":"#222"},{"offset":0.7536,"color":"#eee"},{"offset":0.7857,"color":"#eee"},
            {"offset":0.7857,"color":"#222"},{"offset":0.825,"color":"#222"},{"offset":0.825,"color":"#eee"},{"offset":0.8571,"color":"#eee"},
            {"offset":0.8571,"color":"#222"},{"offset":0.8964,"color":"#222"},{"offset":0.8964,"color":"#eee"},{"offset":0.9286,"color":"#eee"},
            {"offset":0.9286,"color":"#222"},{"offset":0.9679,"color":"#222"},{"offset":0.9679,"color":"#eee"},{"offset":1,"color":"#eee"}
          ]}},
          "encoding": {"x": {"field": "bar", "type": "ordinal"}, "y": {"field": "value", "type": "quantitative", "scale": {"domain": [0, 80], "nice": false}, "axis": null}}},
         {"data": {"name": "bars"}, "transform": [{"filter": "datum.bar == 4"}],
          "mark": {"type": "bar", "stroke": "#000", "strokeWidth": 1.5, "fill": {"gradient": "linear", "x1": 0, "y1": 0, "x2": 1, "y2": 0, "stops": [
            {"offset":0,"color":"#222"},{"offset":0.0667,"color":"#222"},{"offset":0.0667,"color":"#eee"},{"offset":0.1333,"color":"#eee"},
            {"offset":0.1333,"color":"#222"},{"offset":0.2,"color":"#222"},{"offset":0.2,"color":"#eee"},{"offset":0.2667,"color":"#eee"},
            {"offset":0.2667,"color":"#222"},{"offset":0.3333,"color":"#222"},{"offset":0.3333,"color":"#eee"},{"offset":0.4,"color":"#eee"},
            {"offset":0.4,"color":"#222"},{"offset":0.4667,"color":"#222"},{"offset":0.4667,"color":"#eee"},{"offset":0.5333,"color":"#eee"},
            {"offset":0.5333,"color":"#222"},{"offset":0.6,"color":"#222"},{"offset":0.6,"color":"#eee"},{"offset":0.6667,"color":"#eee"},
            {"offset":0.6667,"color":"#222"},{"offset":0.7333,"color":"#222"},{"offset":0.7333,"color":"#eee"},{"offset":0.8,"color":"#eee"},
            {"offset":0.8,"color":"#222"},{"offset":0.8667,"color":"#222"},{"offset":0.8667,"color":"#eee"},{"offset":0.9333,"color":"#eee"},
            {"offset":0.9333,"color":"#222"},{"offset":1,"color":"#222"}
          ]}},
          "encoding": {"x": {"field": "bar", "type": "ordinal"}, "y": {"field": "value", "type": "quantitative", "scale": {"domain": [0, 80], "nice": false}, "axis": null}}},
         {"data": {"name": "bars"}, "transform": [{"filter": "datum.bar == 10"}],
          "mark": {"type": "bar", "stroke": "#000", "strokeWidth": 1.5, "fill": {"gradient": "linear", "x1": 0, "y1": 0, "x2": 0.2712, "y2": 1.2, "stops": [
            {"offset":0,"color":"#111"},{"offset":0.03,"color":"#111"},{"offset":0.03,"color":"#fff"},{"offset":0.06,"color":"#fff"},
            {"offset":0.06,"color":"#111"},{"offset":0.09,"color":"#111"},{"offset":0.09,"color":"#fff"},{"offset":0.12,"color":"#fff"},
            {"offset":0.12,"color":"#111"},{"offset":0.15,"color":"#111"},{"offset":0.15,"color":"#fff"},{"offset":0.18,"color":"#fff"},
            {"offset":0.18,"color":"#111"},{"offset":0.21,"color":"#111"},{"offset":0.21,"color":"#fff"},{"offset":0.24,"color":"#fff"},
            {"offset":0.24,"color":"#111"},{"offset":0.27,"color":"#111"},{"offset":0.27,"color":"#fff"},{"offset":0.30,"color":"#fff"},
            {"offset":0.30,"color":"#111"},{"offset":0.33,"color":"#111"},{"offset":0.33,"color":"#fff"},{"offset":0.36,"color":"#fff"},
            {"offset":0.36,"color":"#111"},{"offset":0.39,"color":"#111"},{"offset":0.39,"color":"#fff"},{"offset":0.42,"color":"#fff"},
            {"offset":0.42,"color":"#111"},{"offset":0.45,"color":"#111"},{"offset":0.45,"color":"#fff"},{"offset":0.48,"color":"#fff"},
            {"offset":0.48,"color":"#111"},{"offset":0.51,"color":"#111"},{"offset":0.51,"color":"#fff"},{"offset":0.54,"color":"#fff"},
            {"offset":0.54,"color":"#111"},{"offset":0.57,"color":"#111"},{"offset":0.57,"color":"#fff"},{"offset":0.60,"color":"#fff"},
            {"offset":0.60,"color":"#111"},{"offset":0.63,"color":"#111"},{"offset":0.63,"color":"#fff"},{"offset":0.66,"color":"#fff"},
            {"offset":0.66,"color":"#111"},{"offset":0.69,"color":"#111"},{"offset":0.69,"color":"#fff"},{"offset":0.72,"color":"#fff"},
            {"offset":0.72,"color":"#111"},{"offset":0.75,"color":"#111"},{"offset":0.75,"color":"#fff"},{"offset":0.78,"color":"#fff"},
            {"offset":0.78,"color":"#111"},{"offset":0.81,"color":"#111"},{"offset":0.81,"color":"#fff"},{"offset":0.84,"color":"#fff"},
            {"offset":0.84,"color":"#111"},{"offset":0.87,"color":"#111"},{"offset":0.87,"color":"#fff"},{"offset":0.90,"color":"#fff"},
            {"offset":0.90,"color":"#111"},{"offset":0.93,"color":"#111"},{"offset":0.93,"color":"#fff"},{"offset":0.96,"color":"#fff"},
            {"offset":0.96,"color":"#111"},{"offset":0.99,"color":"#111"},{"offset":0.99,"color":"#fff"},{"offset":1,"color":"#fff"}
          ]}},
          "encoding": {"x": {"field": "bar", "type": "ordinal"}, "y": {"field": "value", "type": "quantitative", "scale": {"domain": [0, 80], "nice": false}, "axis": null}}},
         {"data": {"name": "bars"}, "transform": [{"filter": "datum.bar == 11"}],
          "mark": {"type": "bar", "stroke": "#000", "strokeWidth": 1.5, "fill": {"gradient": "linear", "x1": 0, "y1": 0, "x2": 1, "y2": 0, "stops": [
            {"offset":0,"color":"#fff"},{"offset":0.06,"color":"#fff"},{"offset":0.06,"color":"#111"},{"offset":0.14,"color":"#111"},{"offset":0.14,"color":"#fff"},
            {"offset":0.26,"color":"#fff"},{"offset":0.26,"color":"#111"},{"offset":0.34,"color":"#111"},{"offset":0.34,"color":"#fff"},
            {"offset":0.46,"color":"#fff"},{"offset":0.46,"color":"#111"},{"offset":0.54,"color":"#111"},{"offset":0.54,"color":"#fff"},
            {"offset":0.66,"color":"#fff"},{"offset":0.66,"color":"#111"},{"offset":0.74,"color":"#111"},{"offset":0.74,"color":"#fff"},
            {"offset":0.86,"color":"#fff"},{"offset":0.86,"color":"#111"},{"offset":0.94,"color":"#111"},{"offset":0.94,"color":"#fff"},{"offset":1,"color":"#fff"}
          ]}},
          "encoding": {"x": {"field": "bar", "type": "ordinal"}, "y": {"field": "value", "type": "quantitative", "scale": {"domain": [0, 80], "nice": false}, "axis": null}}},
         {"data": {"name": "table"}, "mark": {"type": "text", "font": "Liberation Sans", "fontSize": 10, "fontWeight": "bold", "align": "center", "baseline": "middle"},
          "encoding": {
            "x": {"field": "bar", "type": "ordinal"},
            "y": {"field": "agent", "type": "nominal", "sort": null, "scale": {"type": "point", "domain": ["Alkyl-PAF", "Acyl-PAF", "Lyso-PAF", "Lyso-PC"], "range": [163, 254], "padding": 0}, "axis": {"orient": "left", "domain": false, "ticks": false, "labelAlign": "left", "labelBaseline": "middle", "labelPadding": 75, "labelFont": "Liberation Sans", "labelFontSize": 10, "title": null}},
            "text": {"field": "label", "type": "nominal"}
          }}
       ],
       "resolve": {"scale": {"y": "independent"}, "axis": {"y": "independent"}}
      }
    ], "spacing": 24}
  ], "spacing": 13}
],
"spacing": 26
}
